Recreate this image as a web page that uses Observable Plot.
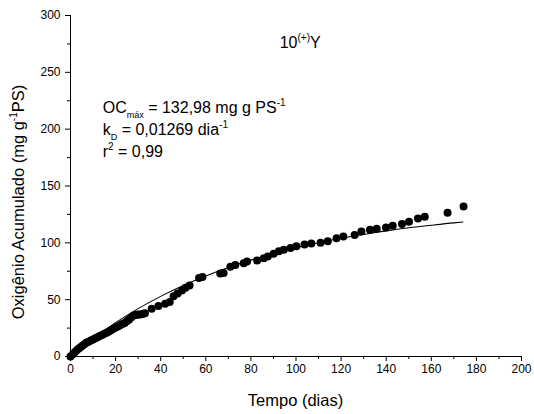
<!DOCTYPE html>
<html><head><meta charset="utf-8">
<script src="https://cdn.jsdelivr.net/npm/d3@7"></script>
<script src="https://cdn.jsdelivr.net/npm/@observablehq/plot@0.6"></script>
<style>
body{margin:0;background:#fff;}
svg{font-family:"Liberation Sans",Arial,sans-serif;}
</style>
</head><body><div id="chart"></div>
<script>
// observed data (days, accumulated oxygen)
const days = [0,1,2,3,4,5,6,7,8,9,10,11,12,13,14,15,16,17,18,19,20,21,22,23,24,25,26,27,28,29,30,31,32,33,
  36,39,42,44,45.7,47.5,49.4,51,52.8,57,58.5,66.4,67.9,70.9,73.1,76.8,78.3,82.8,85.7,87.5,90.1,92.4,94.6,97.6,100.2,
  103.8,106.8,110.9,114.1,118,121,126,129,132.8,135.8,139.9,142.9,147,150.1,154.1,157.1,167.2,174.3];
const oxygen = [0,2,4,6,7.5,9,10.5,12,13,14,15,16,17,18,19,20,21,22,23,24.5,25.5,26.5,27.5,28.5,29.5,31,32.5,34.5,36,36.5,37,37,37.5,38,
  42,44.5,46.5,48,53,55.5,58,60.5,62.5,69,70,73,73.5,79,80.5,82,83.5,84.5,86.5,88,90.5,92.5,94,95.5,97,
  98.5,99.5,100,101.5,104,105.5,107,110,111.5,112.5,113.5,115,116.5,118.5,121.5,123,126.5,132];
// fitted curve
const fitDays = [0,10,20,30,40,50,60,70,80,90,100,110,120,130,140,150,160,170,174];
const fitValues = [0,15.8,29.8,42.1,52.9,62.5,70.9,78.3,84.8,90.5,95.6,100.1,104,107.4,110.5,113.2,115.5,117.6,118.3];
// ticks
const xTicks = [0,20,40,60,80,100,120,140,160,180,200];
const xMinor = [10,30,50,70,90,110,130,150,170,190];
const yTicks = [0,50,100,150,200,250,300];
const yMinor = [25,75,125,175,225,275];

const obs = days.map((d,i)=>({t:d, v:oxygen[i]}));
const fit = fitDays.map((d,i)=>({t:d, v:fitValues[i]}));

const plot = Plot.plot({
  width: 534, height: 414,
  marginLeft: 70, marginRight: 13, marginTop: 15, marginBottom: 58,
  style: {fontFamily: '"Liberation Sans", Arial, sans-serif', fontSize: "12px", color: "#000", background: "#fff"},
  x: {domain: [0,200]},
  y: {domain: [0,300]},
  marks: [
    Plot.axisX({ticks: xTicks, tickSize: 5, tickPadding: 3, fontSize: 12, label: null, stroke: "#000"}),
    Plot.axisX({ticks: xMinor, tickSize: 3, text: null, label: null, stroke: "#000"}),
    Plot.axisY({ticks: yTicks, tickSize: 5, tickPadding: 5, fontSize: 12, label: null, stroke: "#000"}),
    Plot.axisY({ticks: yMinor, tickSize: 3, text: null, label: null, stroke: "#000"}),
    Plot.ruleX([0], {stroke: "#000", strokeWidth: 1}),
    Plot.ruleY([0], {stroke: "#000", strokeWidth: 1}),
    Plot.line(fit, {x: "t", y: "v", stroke: "#000", strokeWidth: 1.1, curve: "monotone-x"}),
    Plot.dot(obs, {x: "t", y: "v", r: 4, fill: "#000", stroke: "none"})
  ]
});
document.getElementById("chart").appendChild(plot);

const svg = d3.select(plot);
const sx = plot.scale("x"), sy = plot.scale("y");
const fam = '"Liberation Sans", Arial, sans-serif';
const FS = 16;   // main annotation font size
const SUP = 10;  // super/subscript font size

function txt(x, y, anchor) {
  return svg.append("text").attr("x", x).attr("y", y).attr("text-anchor", anchor || "start")
    .attr("font-size", FS).attr("font-weight", "normal").attr("font-family", fam).attr("fill", "#000");
}

// x label
txt((sx.apply(0)+sx.apply(200))/2, 406, "middle").attr("font-size", 16.5).text("Tempo (dias)");

// y label with superscript
const yl = svg.append("text").attr("transform", `translate(24,202) rotate(-90)`)
  .attr("text-anchor","middle").attr("font-size",16.5).attr("font-weight","normal").attr("font-family",fam).attr("fill","#000");
yl.append("tspan").text("Oxigênio Acumulado (mg g");
yl.append("tspan").attr("font-size",SUP).attr("dy",-7).text("-1");
yl.append("tspan").attr("dy",7).text("PS)");

// title 10^(+)Y
const t1 = txt(sx.apply(93), 48);
t1.append("tspan").text("10");
t1.append("tspan").attr("font-size",SUP).attr("dy",-7).text("(+)");
t1.append("tspan").attr("dy",7).text("Y");

// annotations
const ax = sx.apply(14.5);
const a1 = txt(ax, 113);
a1.append("tspan").text("OC");
a1.append("tspan").attr("font-size",SUP-1).attr("dy",5).text("máx");
a1.append("tspan").attr("dy",-5).text(" = 132,98 mg g PS");
a1.append("tspan").attr("font-size",SUP).attr("dy",-7).text("-1");

const a2 = txt(ax, 135);
a2.append("tspan").text("k");
a2.append("tspan").attr("font-size",SUP-1).attr("dy",5).text("D");
a2.append("tspan").attr("dy",-5).text(" = 0,01269 dia");
a2.append("tspan").attr("font-size",SUP).attr("dy",-7).text("-1");

const a3 = txt(ax, 157);
a3.append("tspan").text("r");
a3.append("tspan").attr("font-size",SUP).attr("dy",-7).text("2");
a3.append("tspan").attr("dy",7).text(" = 0,99");
</script>
</body></html>
